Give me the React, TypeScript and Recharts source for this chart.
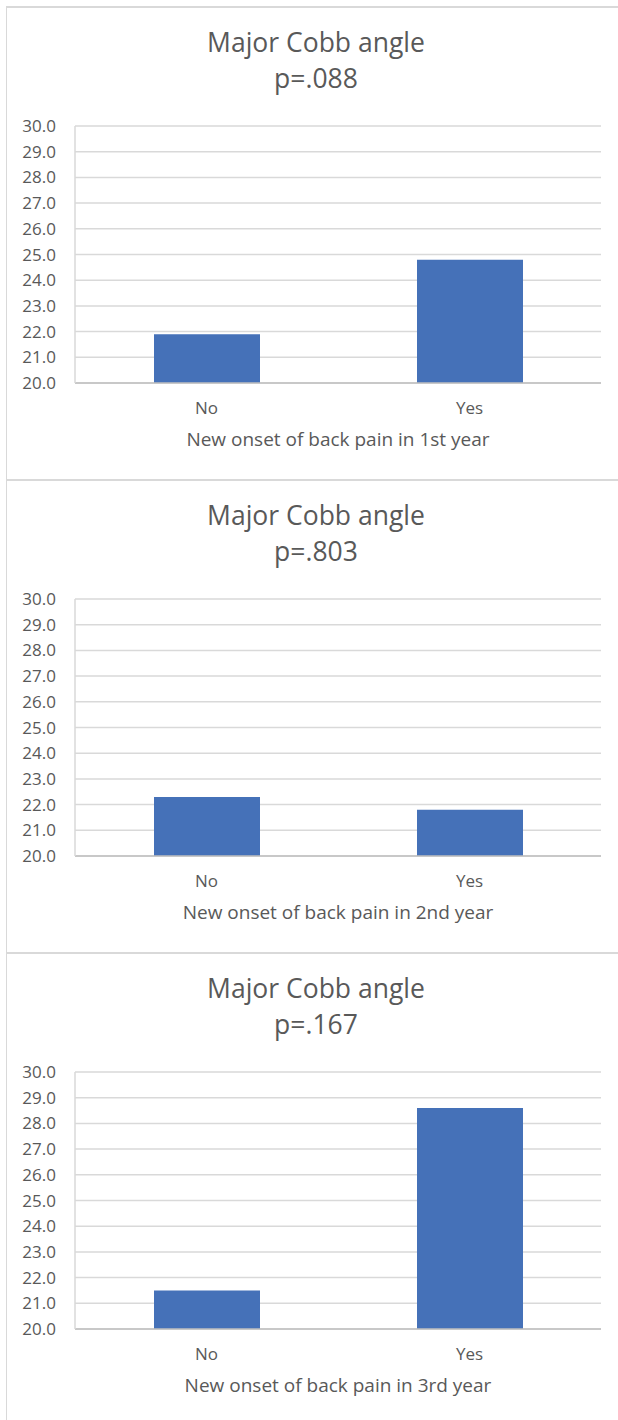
import React from 'react';
import { BarChart, Bar, XAxis, YAxis, CartesianGrid } from 'recharts';

const categories = ['No', 'Yes'];
const year1Values = [21.9, 24.8];
const year2Values = [22.3, 21.8];
const year3Values = [21.5, 28.6];
const yTicks = [20, 21, 22, 23, 24, 25, 26, 27, 28, 29, 30];
const chartTitle = 'Major Cobb angle';
const pLabels = ['p=.088', 'p=.803', 'p=.167'];
const xTitles = [
  'New onset of back pain in 1st year',
  'New onset of back pain in 2nd year',
  'New onset of back pain in 3rd year',
];

const FONT = '"Open Sans", sans-serif';
const TEXT = '#595959';
const BAR = '#4571B8';

const panels = [
  { values: year1Values, p: pLabels[0], xt: xTitles[0], top: 6 },
  { values: year2Values, p: pLabels[1], xt: xTitles[1], top: 479 },
  { values: year3Values, p: pLabels[2], xt: xTitles[2], top: 952 },
];

function Panel({ values, p, xt, top }: { values: number[]; p: string; xt: string; top: number }) {
  const data = categories.map((c, i) => ({ cat: c, value: values[i] }));
  return (
    <>
      <div
        style={{
          position: 'absolute',
          left: 6,
          top,
          width: 640,
          height: 473,
          boxSizing: 'border-box',
          borderTop: '2px solid #d9d9d9',
          borderLeft: '1px solid #d9d9d9',
        }}
      />
      <div
        style={{
          position: 'absolute',
          left: 0,
          top: top + 18,
          width: 632,
          textAlign: 'center',
          fontFamily: FONT,
          fontSize: 26.5,
          lineHeight: '36px',
          color: TEXT,
        }}
      >
        <div>{chartTitle}</div>
        <div>{p}</div>
      </div>
      <div style={{ position: 'absolute', left: 0, top }}>
        <BarChart
          width={618}
          height={473}
          data={data}
          margin={{ top: 120, right: 17, left: 0, bottom: 26 }}
        >
          <CartesianGrid vertical={false} stroke="#d9d9d9" strokeWidth={1.5} />
          <XAxis
            dataKey="cat"
            height={70}
            tickLine={false}
            tickMargin={13}
            axisLine={{ stroke: '#bfbfbf', strokeWidth: 1.5 }}
            tick={{ fill: TEXT, fontSize: 17, fontFamily: FONT }}
          />
          <YAxis
            width={75}
            domain={[20, 30]}
            ticks={yTicks}
            interval={0}
            allowDataOverflow
            tickLine={false}
            tickMargin={13}
            axisLine={{ stroke: '#d9d9d9', strokeWidth: 1.5 }}
            tickFormatter={(v: number) => v.toFixed(1)}
            tick={{ fill: TEXT, fontSize: 17, fontFamily: FONT }}
          />
          <Bar dataKey="value" fill={BAR} barSize={106} isAnimationActive={false} />
        </BarChart>
      </div>
      <div
        style={{
          position: 'absolute',
          left: 75,
          top: top + 422.4,
          width: 526,
          textAlign: 'center',
          fontFamily: FONT,
          fontSize: 19,
          lineHeight: '22px',
          color: TEXT,
          whiteSpace: 'nowrap',
        }}
      >
        {xt}
      </div>
    </>
  );
}

export default function App() {
  return (
    <div
      style={{
        position: 'absolute',
        left: 0,
        top: 0,
        width: 618,
        height: 1420,
        overflow: 'hidden',
        background: '#ffffff',
      }}
    >
      {panels.map((pn, i) => (
        <Panel key={i} {...pn} />
      ))}
    </div>
  );
}
